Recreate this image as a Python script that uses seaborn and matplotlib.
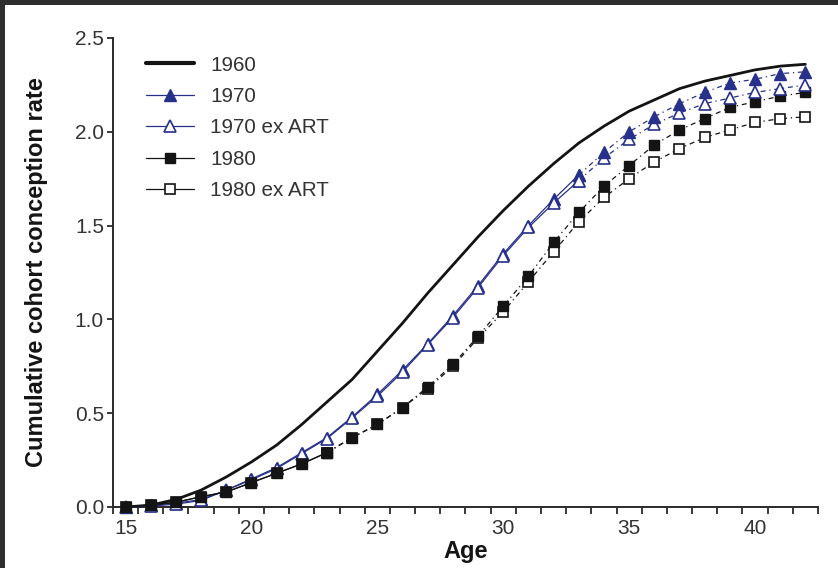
import numpy as np
import pandas as pd
import matplotlib
matplotlib.use("Agg")
import matplotlib.pyplot as plt
from matplotlib.patches import Rectangle
import seaborn as sns

# Ages covered by the cohort curves
ages = list(range(15, 43))

# Cumulative cohort conception rate by birth cohort
rate_1960 = [0.00, 0.01, 0.04, 0.09, 0.16, 0.24, 0.33, 0.44, 0.56, 0.68,
             0.83, 0.98, 1.14, 1.29, 1.44, 1.58, 1.71, 1.83, 1.94, 2.03,
             2.11, 2.17, 2.23, 2.27, 2.30, 2.33, 2.35, 2.36]
rate_1970 = [0.00, 0.01, 0.02, 0.04, 0.09, 0.15, 0.21, 0.29, 0.37, 0.48,
             0.60, 0.73, 0.87, 1.02, 1.18, 1.35, 1.50, 1.64, 1.77, 1.89,
             2.00, 2.08, 2.15, 2.21, 2.26, 2.28, 2.31, 2.32]
rate_1970_ex_art = [0.00, 0.005, 0.015, 0.035, 0.09, 0.145, 0.205, 0.285, 0.365, 0.475,
                    0.59, 0.72, 0.865, 1.01, 1.17, 1.34, 1.49, 1.62, 1.74, 1.86,
                    1.96, 2.04, 2.10, 2.15, 2.18, 2.21, 2.23, 2.25]
rate_1980 = [0.00, 0.01, 0.025, 0.055, 0.08, 0.13, 0.18, 0.23, 0.29, 0.37,
             0.44, 0.53, 0.64, 0.76, 0.91, 1.07, 1.23, 1.41, 1.57, 1.71,
             1.82, 1.93, 2.01, 2.07, 2.13, 2.16, 2.19, 2.21]
rate_1980_ex_art = [0.00, 0.01, 0.025, 0.055, 0.08, 0.13, 0.18, 0.23, 0.29, 0.37,
                    0.44, 0.53, 0.63, 0.75, 0.90, 1.04, 1.20, 1.36, 1.52, 1.65,
                    1.75, 1.84, 1.91, 1.97, 2.01, 2.05, 2.07, 2.08]

# Last observed age of each cohort; later ages are projections
observed_until = {"1970": 33, "1980": 23}

x_tick_labels = ["15", "20", "25", "30", "35", "40"]
y_tick_labels = ["0.0", "0.5", "1.0", "1.5", "2.0", "2.5"]

navy = "#27308a"
ink = "#141414"
text_grey = "#333333"

sns.set_theme(style="ticks")
plt.rcParams["font.family"] = ["Liberation Sans", "DejaVu Sans"]

fig = plt.figure(figsize=(8.38, 5.68), dpi=100)
ax = fig.add_axes([0.1348, 0.1074, 0.8413, 0.8257])

df = pd.DataFrame({
    "age": ages,
    "1960": rate_1960,
    "1970": rate_1970,
    "1970 ex ART": rate_1970_ex_art,
    "1980": rate_1980,
    "1980 ex ART": rate_1980_ex_art,
})

# (column, line/marker style, cohort for observed/projected split,
#  z-order of observed part, z-order of projected part)
series = [
    ("1960", dict(color=ink, lw=2.0), None, 3, 3),
    ("1970", dict(color=navy, lw=0.9, marker="^", markersize=8,
                  markerfacecolor=navy, markeredgecolor=navy, markeredgewidth=1.0),
     "1970", 6, 7),
    ("1970 ex ART", dict(color=navy, lw=0.9, marker="^", markersize=8,
                         markerfacecolor="white", markeredgecolor=navy, markeredgewidth=1.2),
     "1970", 7, 6),
    ("1980", dict(color=ink, lw=0.9, marker="s", markersize=7,
                  markerfacecolor=ink, markeredgecolor=ink, markeredgewidth=1.0),
     "1980", 8, 5),
    ("1980 ex ART", dict(color=ink, lw=0.9, marker="s", markersize=7,
                         markerfacecolor="white", markeredgecolor=ink, markeredgewidth=1.2),
     "1980", 7.5, 4),
]

proj_style = (0, (4, 3, 1, 3))

for name, kws, cohort, z_obs, z_proj in series:
    if cohort is None:
        sns.lineplot(data=df, x="age", y=name, ax=ax, label=name,
                     clip_on=False, zorder=z_obs, **kws)
        continue
    cut = observed_until[cohort]
    obs = df[df["age"] <= cut]
    proj = df[df["age"] >= cut]
    sns.lineplot(data=obs, x="age", y=name, ax=ax, label=name,
                 clip_on=False, zorder=z_obs, **kws)
    sns.lineplot(data=proj, x="age", y=name, ax=ax, linestyle=proj_style,
                 clip_on=False, zorder=z_proj, **kws)

ax.set_xlim(14.5, 42.5)
ax.set_ylim(0, 2.5)

# Labels sit on whole ages, tick marks fall between them
ax.set_xticks([int(t) for t in x_tick_labels])
ax.set_xticklabels(x_tick_labels)
ax.set_xticks(np.arange(14.5, 42.6, 1.0), minor=True)
ax.tick_params(axis="x", which="major", length=0, pad=9, labelsize=15, labelcolor=text_grey)
ax.tick_params(axis="x", which="minor", length=5, width=1.3, color="#2a2a2a", direction="out")
ax.set_yticks([float(t) for t in y_tick_labels])
ax.set_yticklabels(y_tick_labels)
ax.tick_params(axis="y", length=4, width=1.3, color="#2a2a2a", pad=2.5,
               labelsize=15, labelcolor=text_grey)

for side in ("top", "right"):
    ax.spines[side].set_visible(False)
for side in ("left", "bottom"):
    ax.spines[side].set_linewidth(1.4)
    ax.spines[side].set_color("#2a2a2a")

ax.set_xlabel("Age", fontsize=17, fontweight="bold", color=ink, labelpad=1)
ax.set_ylabel("Cumulative cohort conception rate", fontsize=17, fontweight="bold",
              color=ink, labelpad=19)

handles, labels = ax.get_legend_handles_labels()
leg = ax.legend(handles, labels, loc="upper left", bbox_to_anchor=(0.035, 0.98),
                frameon=False, fontsize=14.9, handlelength=2.3, handletextpad=0.8,
                labelspacing=0.6, borderaxespad=0)
for t in leg.get_texts():
    t.set_color(text_grey)
leg.legend_handles[0].set_linewidth(3.0)

# Dark frame strips along the top and left edges of the figure
fig.add_artist(Rectangle((0, 1 - 5 / 568), 1, 5 / 568, transform=fig.transFigure,
                         facecolor="#2e2e2e", edgecolor="none", zorder=10))
fig.add_artist(Rectangle((0, 0), 5 / 838, 1, transform=fig.transFigure,
                         facecolor="#2e2e2e", edgecolor="none", zorder=10))

fig.savefig("out.png", dpi=100, facecolor="white")
